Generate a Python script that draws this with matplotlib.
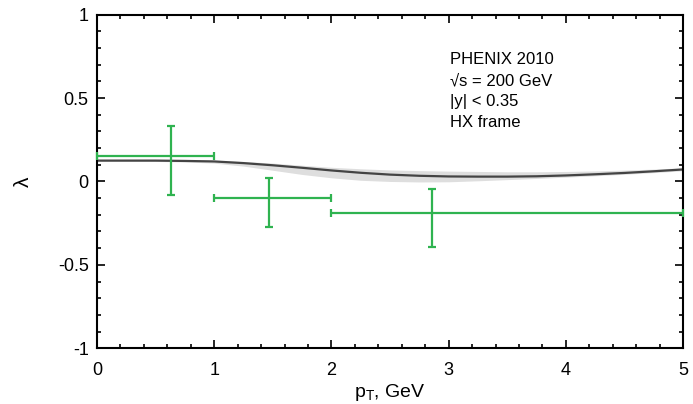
import matplotlib
matplotlib.use("Agg")
import matplotlib.pyplot as plt
from matplotlib.ticker import MultipleLocator, FuncFormatter

plt.rcParams['font.family'] = ['Liberation Sans', 'DejaVu Sans']
plt.rcParams['mathtext.fontset'] = 'custom'
plt.rcParams['mathtext.rm'] = 'Liberation Sans'
plt.rcParams['mathtext.it'] = 'Liberation Sans:italic'

# Theory curve and band
pt_curve = [0.0, 0.25, 0.5, 0.75, 1.0, 1.25, 1.5, 1.75, 2.0, 2.25, 2.5, 2.75, 3.0,
            3.25, 3.5, 3.75, 4.0, 4.25, 4.5, 4.75, 5.0]
lam_curve = [0.125, 0.125, 0.125, 0.123, 0.12, 0.11, 0.097, 0.082, 0.066, 0.052, 0.041,
             0.034, 0.030, 0.029, 0.029, 0.031, 0.036, 0.043, 0.051, 0.061, 0.072]
band_lo = [0.121, 0.121, 0.12, 0.117, 0.11, 0.092, 0.067, 0.042, 0.022, 0.007, 0.0,
           -0.003, -0.002, 0.004, 0.011, 0.018, 0.026, 0.034, 0.043, 0.053, 0.064]
band_hi = [0.13, 0.13, 0.13, 0.128, 0.126, 0.12, 0.11, 0.097, 0.085, 0.076, 0.069,
           0.065, 0.062, 0.06, 0.058, 0.058, 0.06, 0.063, 0.068, 0.074, 0.082]

# PHENIX 2010 data
pt_data = [0.635, 1.467, 2.855]
pt_lo = [0.0, 1.0, 2.0]
pt_hi = [1.0, 2.0, 5.0]
lam_data = [0.15, -0.097, -0.187]
lam_err_up = [0.18, 0.118, 0.14]
lam_err_dn = [0.23, 0.176, 0.208]

fig = plt.figure(figsize=(6.93, 4.04), dpi=100)
ax = fig.add_axes([0.140, 0.138, 0.8456, 0.8257])

ax.fill_between(pt_curve, band_lo, band_hi, color='#dedede', lw=0, zorder=1)
ax.plot(pt_curve, lam_curve, color='#444444', lw=1.6, zorder=2)

xerr = [[p - l for p, l in zip(pt_data, pt_lo)], [h - p for p, h in zip(pt_data, pt_hi)]]
yerr = [lam_err_dn, lam_err_up]
ax.errorbar(pt_data, lam_data, xerr=xerr, yerr=yerr, fmt='none', ecolor='#2fb350',
            elinewidth=1.6, capsize=3, capthick=1.6, zorder=3, clip_on=False)

ax.set_xlim(0, 5)
ax.set_ylim(-1, 1)
ax.xaxis.set_major_locator(MultipleLocator(1))
ax.xaxis.set_minor_locator(MultipleLocator(0.2))
ax.yaxis.set_major_locator(MultipleLocator(0.5))
ax.yaxis.set_minor_locator(MultipleLocator(0.1))
ax.yaxis.set_major_formatter(FuncFormatter(lambda v, p: '%g' % v))
ax.tick_params(which='both', direction='in', top=True, right=True, labelsize=13, width=1.2)
ax.tick_params(which='major', length=6)
ax.tick_params(which='minor', length=3)
ax.tick_params(axis='x', which='major', pad=10)
ax.tick_params(axis='y', which='major', pad=6)
for s in ax.spines.values():
    s.set_linewidth(1.5)

ax.set_xlabel(r'p$_\mathrm{T}$, GeV', fontsize=14, labelpad=2)
ax.set_ylabel('λ', fontsize=15, labelpad=18)

txt = "PHENIX 2010\n√s = 200 GeV\n|y| < 0.35\nHX frame"
ax.text(0.602, 0.888, txt, transform=ax.transAxes, fontsize=12, va='top', ha='left',
        linespacing=1.5)

fig.savefig('out.png', dpi=100)
